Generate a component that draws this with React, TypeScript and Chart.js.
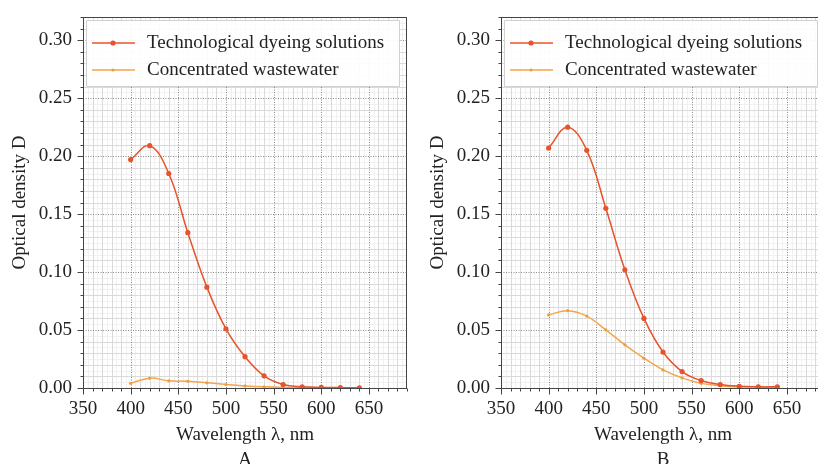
import React, { useEffect, useRef } from "react";
import { Chart, registerables } from "chart.js";

Chart.register(...registerables);

const wavelengths = [400, 420, 440, 460, 480, 500, 520, 540, 560, 580, 600, 620, 640];

const dyeingA = [0.197, 0.209, 0.185, 0.134, 0.087, 0.051, 0.027, 0.0105, 0.003, 0.001, 0.0005, 0.0003, 0.0002];
const wasteA = [0.004, 0.0085, 0.0062, 0.0058, 0.0045, 0.003, 0.0018, 0.001, 0.0005, 0.0003, 0.0002, 0.0001, 0.0001];

const dyeingB = [0.207, 0.225, 0.205, 0.155, 0.102, 0.06, 0.031, 0.0142, 0.0064, 0.003, 0.0015, 0.001, 0.001];
const wasteB = [0.063, 0.0667, 0.062, 0.0502, 0.0372, 0.0257, 0.0156, 0.0087, 0.004, 0.002, 0.001, 0.0008, 0.0005];

const seriesLabels = ["Technological dyeing solutions", "Concentrated wastewater"];
const panelLabels = ["A", "B"];

const xTitle = "Wavelength \u03bb, nm";
const yTitle = "Optical density D";

const RED = "#e8532b";
const ORANGE = "#f5a54a";
const FONT = "'Liberation Serif', 'Times New Roman', serif";
const FS = 19;

const framePlugin = {
  id: "frame",
  beforeDatasetsDraw(chart: any) {
    const { ctx, chartArea: a, scales } = chart;
    const xs = scales.x;
    const ys = scales.y;
    ctx.save();
    ctx.beginPath();
    ctx.rect(a.left, a.top, a.right - a.left, a.bottom - a.top);
    ctx.clip();
    ctx.lineWidth = 1;
    ctx.strokeStyle = "#f1f1f1";
    for (let v = 355; v < 690; v += 10) {
      const p = Math.round(xs.getPixelForValue(v)) + 0.5;
      ctx.beginPath(); ctx.moveTo(p, a.top); ctx.lineTo(p, a.bottom); ctx.stroke();
    }
    for (let i = 1; i < 64; i += 2) {
      const p = Math.round(ys.getPixelForValue(i * 0.005)) + 0.5;
      ctx.beginPath(); ctx.moveTo(a.left, p); ctx.lineTo(a.right, p); ctx.stroke();
    }
    ctx.strokeStyle = "#dadada";
    for (let v = 360; v < 690; v += 10) {
      if (v % 50 === 0) continue;
      const p = Math.round(xs.getPixelForValue(v)) + 0.5;
      ctx.beginPath(); ctx.moveTo(p, a.top); ctx.lineTo(p, a.bottom); ctx.stroke();
    }
    for (let i = 1; i <= 32; i++) {
      if (i % 5 === 0) continue;
      const p = Math.round(ys.getPixelForValue(i * 0.01)) + 0.5;
      ctx.beginPath(); ctx.moveTo(a.left, p); ctx.lineTo(a.right, p); ctx.stroke();
    }
    ctx.strokeStyle = "#8a8a8a";
    ctx.setLineDash([1, 1.5]);
    for (let v = 400; v < 690; v += 50) {
      const p = Math.round(xs.getPixelForValue(v)) + 0.5;
      ctx.beginPath(); ctx.moveTo(p, a.top); ctx.lineTo(p, a.bottom); ctx.stroke();
    }
    for (let i = 5; i <= 30; i += 5) {
      const p = Math.round(ys.getPixelForValue(i * 0.01)) + 0.5;
      ctx.beginPath(); ctx.moveTo(a.left, p); ctx.lineTo(a.right, p); ctx.stroke();
    }
    ctx.restore();
  },
  afterDatasetsDraw(chart: any) {
    const { ctx, chartArea: a } = chart;
    ctx.save();
    const lx = a.left + 3;
    const ly = a.top + 3;
    ctx.fillStyle = "rgba(255,255,255,0.9)";
    ctx.strokeStyle = "#d0d0d0";
    ctx.lineWidth = 1;
    ctx.beginPath();
    ctx.rect(lx + 0.5, ly + 0.5, 313, 66);
    ctx.fill();
    ctx.stroke();
    chart.data.datasets.forEach((ds: any, i: number) => {
      const y = a.top + 26 + i * 27;
      ctx.strokeStyle = ds.borderColor;
      ctx.lineWidth = 1.6;
      ctx.beginPath();
      ctx.moveTo(a.left + 9, y);
      ctx.lineTo(a.left + 52, y);
      ctx.stroke();
      ctx.fillStyle = ds.pointBackgroundColor;
      ctx.beginPath();
      ctx.arc(a.left + 30, y, ds.pointRadius, 0, Math.PI * 2);
      ctx.fill();
      ctx.fillStyle = "#222";
      ctx.font = `${FS}px ${FONT}`;
      ctx.textBaseline = "middle";
      ctx.textAlign = "left";
      ctx.fillText(ds.label, a.left + 64, y);
    });
    ctx.restore();
  },
  afterDraw(chart: any) {
    const { ctx, chartArea: a, scales } = chart;
    const xs = scales.x;
    const ys = scales.y;
    ctx.save();
    ctx.strokeStyle = "#444";
    ctx.lineWidth = 1;
    ctx.strokeRect(Math.round(a.left) + 0.5, Math.round(a.top) + 0.5, Math.round(a.right - a.left) - 1, Math.round(a.bottom - a.top));
    const bottom = Math.round(a.bottom) + 0.5;
    for (let v = 350; v <= 690; v += 10) {
      const p = Math.round(xs.getPixelForValue(v)) + 0.5;
      const len = v % 50 === 0 ? 6 : 3;
      ctx.beginPath(); ctx.moveTo(p, bottom); ctx.lineTo(p, bottom + len); ctx.stroke();
    }
    const left = Math.round(a.left) + 0.5;
    for (let i = 0; i <= 32; i++) {
      const p = Math.round(ys.getPixelForValue(i * 0.01)) + 0.5;
      const len = i % 5 === 0 ? 6 : 3;
      ctx.beginPath(); ctx.moveTo(left, p); ctx.lineTo(left - len, p); ctx.stroke();
    }
    ctx.restore();
  },
};

function makeConfig(dyeing: number[], waste: number[], panel: string): any {
  const toPts = (vals: number[]) => wavelengths.map((x, i) => ({ x, y: vals[i] }));
  return {
    type: "line",
    data: {
      datasets: [
        {
          label: seriesLabels[0],
          data: toPts(dyeing),
          borderColor: RED,
          backgroundColor: RED,
          pointBackgroundColor: RED,
          pointBorderWidth: 0,
          pointRadius: 2.6,
          borderWidth: 1.5,
          tension: 0.4,
        },
        {
          label: seriesLabels[1],
          data: toPts(waste),
          borderColor: ORANGE,
          backgroundColor: ORANGE,
          pointBackgroundColor: "#e8a040",
          pointBorderWidth: 0,
          pointRadius: 1.6,
          borderWidth: 1.5,
          tension: 0.4,
        },
      ],
    },
    options: {
      animation: false,
      responsive: false,
      maintainAspectRatio: false,
      layout: { padding: { top: 17, right: 0, left: 0, bottom: 0 } },
      plugins: { legend: { display: false }, tooltip: { enabled: false }, title: { display: false } },
      scales: {
        x: {
          type: "linear",
          min: 350,
          max: 690,
          grid: { display: false, drawTicks: false },
          border: { display: false },
          ticks: {
            stepSize: 10,
            autoSkip: false,
            maxRotation: 0,
            padding: 10,
            color: "#222",
            font: { family: FONT, size: FS },
            callback: (v: number) => (Math.round(v) % 50 === 0 && v < 690 ? String(Math.round(v)) : ""),
          },
          title: {
            display: true,
            text: [xTitle, panel],
            color: "#222",
            font: { family: FONT, size: FS, lineHeight: 25 / FS },
            padding: { top: 0, bottom: 7 },
          },
          afterFit: (s: any) => {
            s.height = 92;
            s.paddingLeft = 0;
            s.paddingRight = 0;
          },
        },
        y: {
          type: "linear",
          min: 0,
          max: 0.32,
          grid: { display: false, drawTicks: false },
          border: { display: false },
          ticks: {
            stepSize: 0.01,
            autoSkip: false,
            padding: 11,
            color: "#222",
            font: { family: FONT, size: FS },
            callback: (v: number) => {
              const k = Math.round(v * 100);
              return k % 5 === 0 && k <= 30 ? (k / 100).toFixed(2) : "";
            },
          },
          title: {
            display: true,
            text: yTitle,
            color: "#222",
            font: { family: FONT, size: FS, lineHeight: 1.2 },
            padding: { top: 18, bottom: 0 },
          },
          afterFit: (s: any) => {
            s.width = 92;
            s.paddingTop = 0;
            s.paddingBottom = 0;
          },
        },
      },
    },
    plugins: [framePlugin],
  };
}

function Panel({ dyeing, waste, panel, left }: { dyeing: number[]; waste: number[]; panel: string; left: number }) {
  const ref = useRef<HTMLCanvasElement | null>(null);
  useEffect(() => {
    if (!ref.current) return;
    const chart = new Chart(ref.current, makeConfig(dyeing, waste, panel));
    return () => chart.destroy();
  }, [dyeing, waste, panel]);
  return (
    <canvas
      ref={ref}
      width={420}
      height={480}
      style={{ position: "absolute", left, top: 0, width: 420, height: 480 }}
    />
  );
}

export default function App() {
  useEffect(() => {
    document.body.style.margin = "0";
    document.body.style.background = "#fff";
  }, []);
  return (
    <div style={{ position: "relative", width: 818, height: 464, overflow: "hidden", background: "#fff" }}>
      <Panel dyeing={dyeingA} waste={wasteA} panel={panelLabels[0]} left={-9} />
      <Panel dyeing={dyeingB} waste={wasteB} panel={panelLabels[1]} left={409} />
    </div>
  );
}
